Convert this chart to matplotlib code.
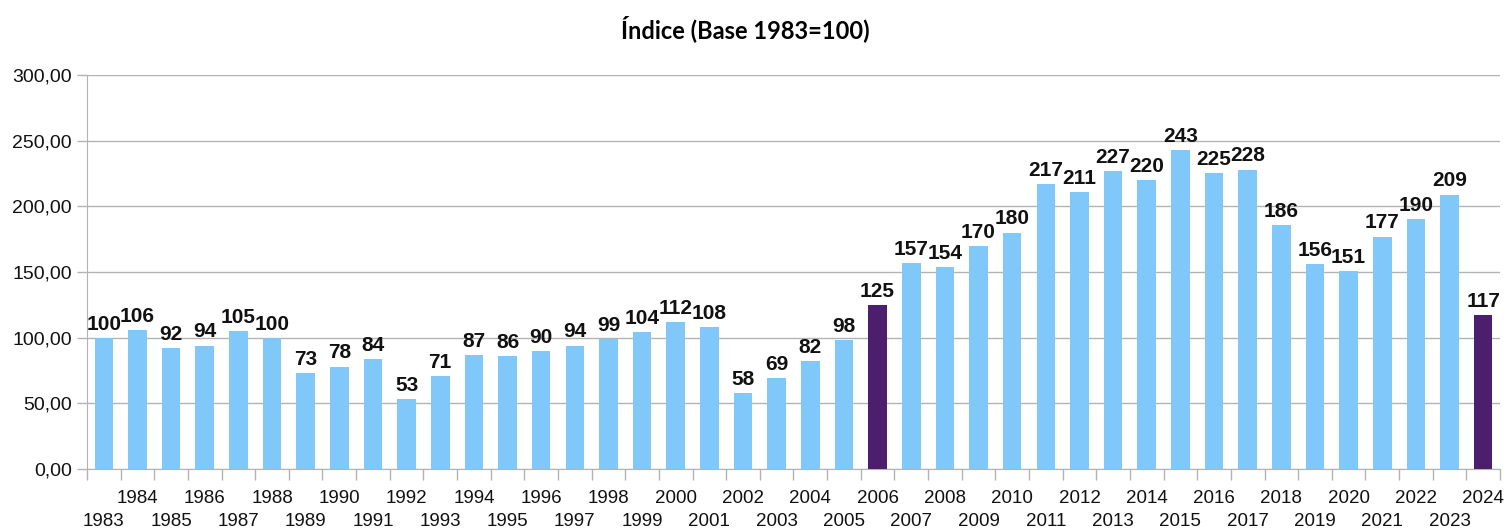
import matplotlib
matplotlib.use("Agg")
import matplotlib.pyplot as plt
from matplotlib.ticker import FixedLocator, FuncFormatter

years = list(range(1983, 2025))
values = [100, 106, 92, 94, 105, 100, 73, 78, 84, 53, 71, 87, 86, 90, 94, 99, 104,
          112, 108, 58, 69, 82, 98, 125, 157, 154, 170, 180, 217, 211, 227, 220, 243,
          225, 228, 186, 156, 151, 177, 190, 209, 117]
highlight_years = [2006, 2024]

light = "#80C7FA"
dark = "#4B1E6E"
grid_c = "#b3b3b3"
text_c = "#111111"
colors = [dark if y in highlight_years else light for y in years]

fig = plt.figure(figsize=(15.05, 5.29), dpi=100)
ax = fig.add_axes([87/1505, 60/529, 1413/1505, 394/529])

x = list(range(len(years)))
bars = ax.bar(x, values, width=0.55, color=colors, zorder=3)
ax.bar_label(bars, labels=[str(v) for v in values], padding=3,
             fontsize=15, fontweight="bold", family="Liberation Sans", color=text_c)

ax.set_xlim(-0.5, len(years) - 0.5)
ax.set_ylim(0, 300)
ax.set_yticks([0, 50, 100, 150, 200, 250, 300])
ax.yaxis.set_major_formatter(FuncFormatter(lambda v, p: f"{v:.2f}".replace(".", ",")))
ax.grid(axis="y", color=grid_c, linewidth=1, zorder=0)

# upper row: 1984, 1986, ...
upper = [i for i in x if i % 2 == 1]
lower = [i for i in x if i % 2 == 0]
ax.set_xticks(upper)
ax.set_xticklabels([str(years[i]) for i in upper])
ax.xaxis.set_minor_locator(FixedLocator([i - 0.5 for i in range(len(years) + 1)]))
ax.tick_params(axis="x", which="major", length=0, pad=15, labelsize=13.5, labelcolor=text_c)
ax.tick_params(axis="x", which="minor", length=8, color=grid_c, width=1)
ax.tick_params(axis="y", length=7, color=grid_c, width=1, labelsize=14, pad=4, labelcolor=text_c)

sec = ax.secondary_xaxis("bottom")
sec.set_xticks(lower)
sec.set_xticklabels([str(years[i]) for i in lower])
sec.tick_params(axis="x", length=0, pad=32, labelsize=13.5, labelcolor=text_c)
sec.spines["bottom"].set_visible(False)

for lab in ax.get_xticklabels() + ax.get_yticklabels() + sec.get_xticklabels():
    lab.set_family("Liberation Sans")

for s in ["top", "right"]:
    ax.spines[s].set_visible(False)
ax.spines["left"].set_color(grid_c)
ax.spines["bottom"].set_color(grid_c)

fig.text(745/1505, 1 - 29/529, "Índice (Base 1983=100)", ha="center", va="center",
         fontsize=17, fontweight="bold", family="Lato")

fig.savefig("out.png", dpi=100)
